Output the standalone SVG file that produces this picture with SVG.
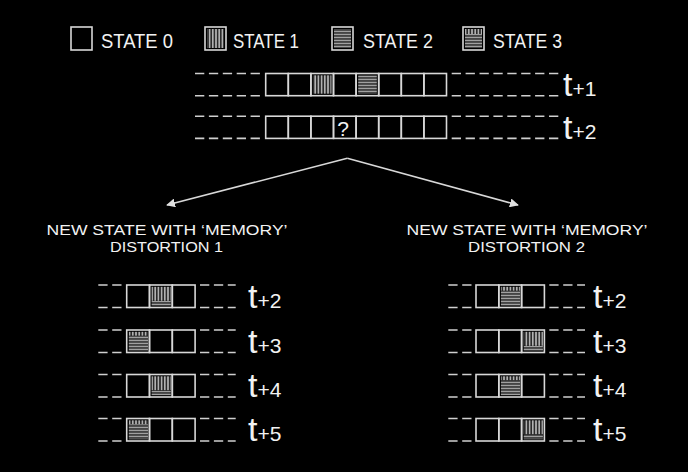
<svg xmlns="http://www.w3.org/2000/svg" width="688" height="472" viewBox="0 0 688 472">
<style>
.bg{fill:#000}
.cell{fill:none;stroke:#d8d8d8;stroke-width:1.6}
.dash{stroke:#cfcfcf;stroke-width:1.6;stroke-dasharray:9.3 4.6;fill:none}
.txt{fill:#f2f2f2;font-family:"Liberation Sans",Arial,sans-serif}
.leg{font-size:21px}
.head{font-size:15px}
.tl{font-size:34px}
.tl tspan{font-size:21px}
.conn{stroke:#d8d8d8;stroke-width:1.6;fill:none}
</style>
<defs>
<pattern id="vp" width="3.2" height="4" patternUnits="userSpaceOnUse">
<rect width="3.2" height="4" fill="#2a2a2a"/>
<rect x="0.9" width="1.4" height="4" fill="#c4c4c4"/>
</pattern>
<pattern id="hp" width="4" height="3" patternUnits="userSpaceOnUse">
<rect width="4" height="3" fill="#3a3a3a"/>
<rect y="0.8" width="4" height="1.3" fill="#a0a0a0"/>
</pattern>
<marker id="ah" viewBox="0 0 10 10" refX="9" refY="5" markerWidth="9" markerHeight="9" markerUnits="userSpaceOnUse" orient="auto">
<path d="M0,0 L10,5 L0,10 z" fill="#e0e0e0"/>
</marker>
</defs>
<rect class="bg" width="688" height="472"/>

<g id="legend">
<g id="legend-state0">
<rect class="cell" x="71" y="27" width="21" height="23"/>
<text class="txt leg" x="101" y="48.3" textLength="72" lengthAdjust="spacingAndGlyphs">STATE 0</text>
</g>
<g id="legend-state1">
<rect x="207" y="29" width="17" height="19" fill="url(#vp)"/>
<rect class="cell" x="205" y="27" width="21" height="23"/>
<text class="txt leg" x="233" y="48.3" textLength="66" lengthAdjust="spacingAndGlyphs">STATE 1</text>
</g>
<g id="legend-state2">
<rect x="334" y="29" width="17" height="19" fill="url(#hp)"/>
<rect class="cell" x="332" y="27" width="21" height="23"/>
<text class="txt leg" x="363" y="48.3" textLength="70" lengthAdjust="spacingAndGlyphs">STATE 2</text>
</g>
<g id="legend-state3">
<rect x="465" y="29" width="17" height="5" fill="url(#vp)"/>
<rect x="465" y="34" width="17" height="14" fill="url(#hp)"/>
<rect class="cell" x="463" y="27" width="21" height="23"/>
<text class="txt leg" x="493" y="48.3" textLength="69" lengthAdjust="spacingAndGlyphs">STATE 3</text>
</g>
</g>

<g id="row-t1">
<line class="dash" x1="195" y1="73.5" x2="261" y2="73.5"/>
<line class="dash" x1="195" y1="95.7" x2="261" y2="95.7"/>
<rect x="312.9" y="75.3" width="18.6" height="18.4" fill="url(#vp)"/>
<rect x="358.2" y="75.3" width="18.6" height="18.4" fill="url(#hp)"/>
<rect class="cell" x="265.7" y="73.5" width="22.6" height="22.2"/>
<rect class="cell" x="288.3" y="73.5" width="22.6" height="22.2"/>
<rect class="cell" x="310.9" y="73.5" width="22.6" height="22.2"/>
<rect class="cell" x="333.5" y="73.5" width="22.6" height="22.2"/>
<rect class="cell" x="356.1" y="73.5" width="22.6" height="22.2"/>
<rect class="cell" x="378.7" y="73.5" width="22.6" height="22.2"/>
<rect class="cell" x="401.3" y="73.5" width="22.6" height="22.2"/>
<rect class="cell" x="423.9" y="73.5" width="22.6" height="22.2"/>
<line class="dash" x1="451.7" y1="73.5" x2="560" y2="73.5"/>
<line class="dash" x1="451.7" y1="95.7" x2="560" y2="95.7"/>
<text class="txt tl" x="563" y="95.5">t<tspan>+1</tspan></text>
</g>

<g id="row-t2">
<line class="dash" x1="195" y1="116.2" x2="261" y2="116.2"/>
<line class="dash" x1="195" y1="138.4" x2="261" y2="138.4"/>
<rect class="cell" x="265.7" y="116.2" width="22.6" height="22.2"/>
<rect class="cell" x="288.3" y="116.2" width="22.6" height="22.2"/>
<rect class="cell" x="310.9" y="116.2" width="22.6" height="22.2"/>
<rect class="cell" x="333.5" y="116.2" width="22.6" height="22.2"/>
<rect class="cell" x="356.1" y="116.2" width="22.6" height="22.2"/>
<rect class="cell" x="378.7" y="116.2" width="22.6" height="22.2"/>
<rect class="cell" x="401.3" y="116.2" width="22.6" height="22.2"/>
<rect class="cell" x="423.9" y="116.2" width="22.6" height="22.2"/>
<text class="txt" x="343" y="136" font-size="21" text-anchor="middle">?</text>
<line class="dash" x1="451.7" y1="116.2" x2="560" y2="116.2"/>
<line class="dash" x1="451.7" y1="138.4" x2="560" y2="138.4"/>
<text class="txt tl" x="563" y="138.5">t<tspan>+2</tspan></text>
</g>

<g id="connectors">
<line class="conn" x1="347.3" y1="158.3" x2="167" y2="205" marker-end="url(#ah)"/>
<line class="conn" x1="347.3" y1="158.3" x2="518" y2="205" marker-end="url(#ah)"/>
</g>

<g id="heading-1">
<text class="txt head" x="167" y="234.8" text-anchor="middle" textLength="241" lengthAdjust="spacingAndGlyphs">NEW STATE WITH ‘MEMORY’</text>
<text class="txt head" x="166.5" y="252.2" text-anchor="middle" textLength="113" lengthAdjust="spacingAndGlyphs">DISTORTION 1</text>
</g>
<g id="heading-2">
<text class="txt head" x="527" y="234.8" text-anchor="middle" textLength="241" lengthAdjust="spacingAndGlyphs">NEW STATE WITH ‘MEMORY’</text>
<text class="txt head" x="526.5" y="252.2" text-anchor="middle" textLength="117" lengthAdjust="spacingAndGlyphs">DISTORTION 2</text>
</g>

<g id="d1-t2">
<line class="dash" x1="98.3" y1="285" x2="121.7" y2="285"/>
<line class="dash" x1="98.3" y1="307.5" x2="121.7" y2="307.5"/>
<rect x="151.6" y="286.8" width="19.2" height="14" fill="url(#vp)"/>
<rect x="151.6" y="301" width="19.2" height="4.8" fill="url(#hp)"/>
<rect class="cell" x="126.7" y="285" width="22.8" height="22.5"/>
<rect class="cell" x="149.5" y="285" width="22.8" height="22.5"/>
<rect class="cell" x="172.3" y="285" width="22.8" height="22.5"/>
<line class="dash" x1="200" y1="285" x2="235.7" y2="285"/>
<line class="dash" x1="200" y1="307.5" x2="235.7" y2="307.5"/>
<text class="txt tl" x="248" y="307.5">t<tspan>+2</tspan></text>
</g>
<g id="d1-t3">
<line class="dash" x1="98.3" y1="330" x2="121.7" y2="330"/>
<line class="dash" x1="98.3" y1="352.5" x2="121.7" y2="352.5"/>
<rect x="128.8" y="331.8" width="19.2" height="4" fill="url(#vp)"/>
<rect x="128.8" y="335.8" width="19.2" height="15" fill="url(#hp)"/>
<rect class="cell" x="126.7" y="330" width="22.8" height="22.5"/>
<rect class="cell" x="149.5" y="330" width="22.8" height="22.5"/>
<rect class="cell" x="172.3" y="330" width="22.8" height="22.5"/>
<line class="dash" x1="200" y1="330" x2="235.7" y2="330"/>
<line class="dash" x1="200" y1="352.5" x2="235.7" y2="352.5"/>
<text class="txt tl" x="248" y="352.5">t<tspan>+3</tspan></text>
</g>
<g id="d1-t4">
<line class="dash" x1="98.3" y1="374.5" x2="121.7" y2="374.5"/>
<line class="dash" x1="98.3" y1="397" x2="121.7" y2="397"/>
<rect x="151.6" y="376.3" width="19.2" height="14" fill="url(#vp)"/>
<rect x="151.6" y="390.5" width="19.2" height="4.8" fill="url(#hp)"/>
<rect class="cell" x="126.7" y="374.5" width="22.8" height="22.5"/>
<rect class="cell" x="149.5" y="374.5" width="22.8" height="22.5"/>
<rect class="cell" x="172.3" y="374.5" width="22.8" height="22.5"/>
<line class="dash" x1="200" y1="374.5" x2="235.7" y2="374.5"/>
<line class="dash" x1="200" y1="397" x2="235.7" y2="397"/>
<text class="txt tl" x="248" y="397">t<tspan>+4</tspan></text>
</g>
<g id="d1-t5">
<line class="dash" x1="98.3" y1="418.5" x2="121.7" y2="418.5"/>
<line class="dash" x1="98.3" y1="441" x2="121.7" y2="441"/>
<rect x="128.8" y="420.3" width="19.2" height="4" fill="url(#vp)"/>
<rect x="128.8" y="424.3" width="19.2" height="15" fill="url(#hp)"/>
<rect class="cell" x="126.7" y="418.5" width="22.8" height="22.5"/>
<rect class="cell" x="149.5" y="418.5" width="22.8" height="22.5"/>
<rect class="cell" x="172.3" y="418.5" width="22.8" height="22.5"/>
<line class="dash" x1="200" y1="418.5" x2="235.7" y2="418.5"/>
<line class="dash" x1="200" y1="441" x2="235.7" y2="441"/>
<text class="txt tl" x="248" y="441">t<tspan>+5</tspan></text>
</g>

<g id="d2-t2">
<line class="dash" x1="448.3" y1="285" x2="471.7" y2="285"/>
<line class="dash" x1="448.3" y1="307.5" x2="471.7" y2="307.5"/>
<rect x="500.9" y="286.8" width="19.2" height="4" fill="url(#vp)"/>
<rect x="500.9" y="290.8" width="19.2" height="15" fill="url(#hp)"/>
<rect class="cell" x="476" y="285" width="22.8" height="22.5"/>
<rect class="cell" x="498.8" y="285" width="22.8" height="22.5"/>
<rect class="cell" x="521.6" y="285" width="22.8" height="22.5"/>
<line class="dash" x1="549.3" y1="285" x2="585" y2="285"/>
<line class="dash" x1="549.3" y1="307.5" x2="585" y2="307.5"/>
<text class="txt tl" x="593" y="307.5">t<tspan>+2</tspan></text>
</g>
<g id="d2-t3">
<line class="dash" x1="448.3" y1="330" x2="471.7" y2="330"/>
<line class="dash" x1="448.3" y1="352.5" x2="471.7" y2="352.5"/>
<rect x="523.7" y="331.8" width="19.2" height="14" fill="url(#vp)"/>
<rect x="523.7" y="346" width="19.2" height="4.8" fill="url(#hp)"/>
<rect class="cell" x="476" y="330" width="22.8" height="22.5"/>
<rect class="cell" x="498.8" y="330" width="22.8" height="22.5"/>
<rect class="cell" x="521.6" y="330" width="22.8" height="22.5"/>
<line class="dash" x1="549.3" y1="330" x2="585" y2="330"/>
<line class="dash" x1="549.3" y1="352.5" x2="585" y2="352.5"/>
<text class="txt tl" x="593" y="352.5">t<tspan>+3</tspan></text>
</g>
<g id="d2-t4">
<line class="dash" x1="448.3" y1="374.5" x2="471.7" y2="374.5"/>
<line class="dash" x1="448.3" y1="397" x2="471.7" y2="397"/>
<rect x="500.9" y="376.3" width="19.2" height="4" fill="url(#vp)"/>
<rect x="500.9" y="380.3" width="19.2" height="15" fill="url(#hp)"/>
<rect class="cell" x="476" y="374.5" width="22.8" height="22.5"/>
<rect class="cell" x="498.8" y="374.5" width="22.8" height="22.5"/>
<rect class="cell" x="521.6" y="374.5" width="22.8" height="22.5"/>
<line class="dash" x1="549.3" y1="374.5" x2="585" y2="374.5"/>
<line class="dash" x1="549.3" y1="397" x2="585" y2="397"/>
<text class="txt tl" x="593" y="397">t<tspan>+4</tspan></text>
</g>
<g id="d2-t5">
<line class="dash" x1="448.3" y1="418.5" x2="471.7" y2="418.5"/>
<line class="dash" x1="448.3" y1="441" x2="471.7" y2="441"/>
<rect x="523.7" y="420.3" width="19.2" height="14" fill="url(#vp)"/>
<rect x="523.7" y="434.5" width="19.2" height="4.8" fill="url(#hp)"/>
<rect class="cell" x="476" y="418.5" width="22.8" height="22.5"/>
<rect class="cell" x="498.8" y="418.5" width="22.8" height="22.5"/>
<rect class="cell" x="521.6" y="418.5" width="22.8" height="22.5"/>
<line class="dash" x1="549.3" y1="418.5" x2="585" y2="418.5"/>
<line class="dash" x1="549.3" y1="441" x2="585" y2="441"/>
<text class="txt tl" x="593" y="441">t<tspan>+5</tspan></text>
</g>
</svg>
